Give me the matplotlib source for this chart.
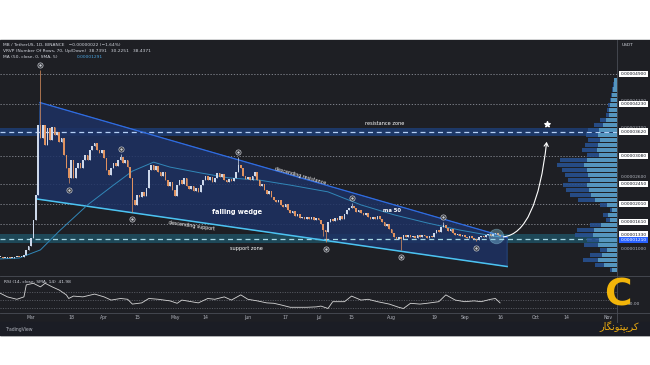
import numpy as np
import pandas as pd
import matplotlib
matplotlib.use('Agg')
import matplotlib.pyplot as plt
import matplotlib.dates as mdates
import matplotlib.transforms as mtransforms
from matplotlib.patches import Polygon, FancyArrowPatch, Rectangle
from matplotlib.lines import Line2D

# prices are in units of 0.00000001 USDT
start_date = '2024-02-17'
first_open = 830
closes = [
    830, 810, 820, 830, 810, 820, 830, 840, 830,
    840, 880, 990, 1080,
    1250, 1650, 2210, 3770, 3480, 3770, 3320, 3700, 3430, 3720,
    3540, 3610, 3390, 3480, 3100, 2810, 2590, 2990, 2590, 2810,
    2920, 2810, 2990, 3100, 2990, 3210, 3300, 3370, 3210, 3140,
    3210, 3030, 2770, 2650, 2810, 2920, 2850, 2990, 3050, 2920,
    2990, 2830, 2590, 2100, 1990, 2210, 2170, 2280, 2190, 2370,
    2770, 2880, 2770, 2850, 2720, 2630, 2720, 2540, 2410, 2500,
    2320, 2190, 2430, 2540, 2450, 2590, 2410, 2340, 2410, 2300,
    2370, 2280, 2430, 2540, 2630, 2540, 2610, 2500, 2590, 2700,
    2610, 2680, 2540, 2500, 2570, 2520, 2590, 2720, 2880, 2810,
    2630, 2570, 2610, 2540, 2630, 2720, 2540, 2410, 2460, 2320,
    2230, 2300, 2170, 2100, 2060, 2100, 1990, 1940, 2010, 1880,
    1810, 1860, 1740, 1790, 1700, 1720, 1680, 1720, 1680, 1720,
    1650, 1700, 1650, 1570, 1430, 1390, 1610, 1680, 1630, 1700,
    1650, 1740, 1680, 1790, 1880, 1920, 1970, 1920, 1830, 1880,
    1810, 1770, 1810, 1720, 1680, 1720, 1680, 1740, 1680, 1610,
    1520, 1570, 1460, 1370, 1280, 1230, 1280, 1230, 1320, 1280,
    1320, 1280, 1300, 1250, 1320, 1280, 1320, 1300, 1250, 1300,
    1280, 1370, 1430, 1390, 1500, 1540, 1480, 1410, 1460, 1370,
    1320, 1340, 1300, 1320, 1280, 1250, 1300, 1250, 1230, 1210,
    1280, 1300, 1280, 1320, 1340, 1300, 1340, 1370, 1320, 1300,
]
# wicks sticking out of the bodies (days counted from Mar 1)
high_days = [4, 38, 88, 136, 175]
high_vals = [4990, 3120, 3060, 2030, 1610]
low_days = [16, 43, 124, 125, 157, 189]
low_vals = [2480, 1830, 1300, 1170, 990, 1190]
pivot_high_days = [4, 38, 88, 136, 175]
pivot_low_days = [16, 43, 125, 157, 189]

ma_days = [-13, -5, 4, 12, 24, 35, 43, 52, 59, 72, 84, 97, 110, 126, 140, 154, 168, 182, 196, 199]
ma_vals = [790, 810, 990, 1410, 1990, 2430, 2740, 2940, 2830, 2700, 2590, 2540, 2430, 2280, 1990, 1770, 1590, 1430, 1300, 1280]

rsi_days = [-13, -10, -6, -3, -2, 1, 4, 6, 9, 12, 15, 16, 18, 22, 27, 31, 34, 38, 41, 43,
            47, 50, 54, 59, 62, 64, 68, 71, 75, 78, 82, 85, 89, 92, 96, 100, 103, 106, 110, 114,
            117, 121, 123, 126, 128, 133, 136, 140, 143, 147, 152, 156, 158, 161, 165, 168, 173, 176, 180, 184,
            188, 191, 195, 197, 199]
rsi_vals = [66, 57, 51, 57, 87, 91, 82, 91, 82, 74, 62, 53, 59, 57, 64, 57, 49, 53, 51, 39,
            42, 53, 51, 47, 41, 49, 45, 42, 53, 51, 57, 49, 62, 51, 47, 42, 41, 37, 31, 31,
            31, 32, 34, 28, 45, 45, 59, 49, 51, 45, 39, 31, 28, 41, 39, 41, 45, 62, 49, 45,
            47, 45, 51, 53, 42]

vp_levels = [4770, 4660, 4550, 4430, 4320, 4210, 4100, 3990, 3880, 3770, 3650, 3540, 3430, 3320, 3210,
             3100, 2990, 2880, 2770, 2660, 2540, 2430, 2320, 2210, 2100, 1990, 1880, 1770, 1650, 1540,
             1430, 1320, 1210, 1100, 990, 880, 770, 650, 540]
vp_total = [3, 4, 5, 6, 7, 9, 10, 11, 17, 23, 29, 31, 29, 32, 35, 30, 57, 60, 55, 52,
            49, 54, 51, 47, 39, 17, 7, 14, 11, 27, 40, 42, 30, 33, 17, 27, 34, 22, 7]
vp_up = [3, 3, 4, 5, 6, 7, 8, 8, 11, 14, 18, 19, 17, 19, 20, 18, 30, 33, 30, 29,
         27, 30, 28, 26, 22, 10, 5, 9, 7, 16, 23, 24, 18, 19, 10, 15, 19, 13, 5]

dotted_levels = [4900, 4230, 3080, 2450, 2010, 1570]
box_levels = [4900, 4230, 3620, 3080, 2450, 2010, 1610, 1330]
axis_ticks = [4300, 3700, 3100, 2600, 1000]
blue_level = 1210
res_zone = [3520, 3700]
res_line = 3620
sup_zone = [1140, 1340]
sup_line = 1230

wedge_days = [3.8, 202, 202, 2.5]
wedge_prices = [4265, 1266, 621, 2121]

date_tick_days = [0, 17, 31, 45, 61, 74, 92, 108, 122, 136, 153, 171, 184, 199, 214, 227, 245]
date_tick_labels = ['Mar', '18', 'Apr', '15', 'May', '14', 'Jun', '17', 'Jul', '15', 'Aug', '19', 'Sep', '16', 'Oct', '14', 'Nov']

BG = '#1e1f24'
UP = '#cdd8ea'
DOWN = '#e0925f'
TXT = '#d1d4dc'
GRID = '#8d9099'

fig = plt.figure(figsize=(6.5, 3.65), dpi=100)
fig.patch.set_facecolor('white')
fig.patches.append(Rectangle((0, 0.0822), 1, 0.8082, transform=fig.transFigure, color=BG, zorder=-10))
fig.patches.append(Rectangle((0, 0.0822), 1, 0.0356, transform=fig.transFigure, color='#1b1d25', zorder=-9))

ax = fig.add_axes([0, 0.2438, 0.9492, 0.6466])
ax_rsi = fig.add_axes([0, 0.1425, 0.9492, 0.1014], sharex=ax)
for a in (ax, ax_rsi):
    a.set_facecolor('none')
    for s in a.spines.values():
        s.set_visible(False)
    a.set_yticks([])

mar1 = mdates.date2num(pd.Timestamp('2024-03-01'))
x = mdates.date2num(pd.date_range(start_date, periods=len(closes), freq='D'))
c = np.array(closes, dtype=float)
o = np.array([first_open] + closes[:-1], dtype=float)
hi = np.maximum(o, c)
lo = np.minimum(o, c)
for d, v in zip(high_days, high_vals):
    hi[int(round(mar1 + d - x[0]))] = v
for d, v in zip(low_days, low_vals):
    lo[int(round(mar1 + d - x[0]))] = v

ax.set_xlim(mar1 - 13.15, mar1 + 248.6)
ax.set_ylim(410, 5654)
ax_rsi.set_ylim(16.75, 109.25)

# zones and levels
ax.axhspan(res_zone[0], res_zone[1], color='#1d3a6b', alpha=0.95, zorder=1, lw=0)
ax.axhline(res_line, color='#b4cff5', ls=(0, (4, 3)), lw=0.9, zorder=2)
ax.axhspan(sup_zone[0], sup_zone[1], color='#1f4b5c', alpha=0.95, zorder=1, lw=0)
ax.axhline(sup_line, color='#a8d8e6', ls=(0, (4, 3)), lw=0.9, zorder=2)
for v in dotted_levels:
    ax.axhline(v, color=GRID, ls=(0, (1.5, 2)), lw=0.6, zorder=1)

# falling wedge
wx = [mar1 + d for d in wedge_days]
ax.add_patch(Polygon(list(zip(wx, wedge_prices)), closed=True, fc='#1d3163', alpha=0.85, ec='#2a5cab', lw=0.5, zorder=1.5))
ax.plot(wx[:2], wedge_prices[:2], color='#2f6be0', lw=0.9, zorder=3)
ax.plot([wx[3], wx[2]], [wedge_prices[3], wedge_prices[2]], color='#4cc3f0', lw=1.1, zorder=3)

# ma 50
ax.plot([mar1 + d for d in ma_days], ma_vals, color='#3187b8', lw=0.7, zorder=3)

# candles
cols = np.where(c >= o, UP, DOWN)
ax.vlines(x, lo, hi, colors=cols, lw=0.5, zorder=4)
ax.bar(x, np.maximum(np.abs(c - o), 18), bottom=np.minimum(o, c), width=0.68, color=cols, lw=0, zorder=5)

# pivot markers
above = mtransforms.offset_copy(ax.transData, fig=fig, x=0, y=5, units='dots')
below = mtransforms.offset_copy(ax.transData, fig=fig, x=0, y=-7, units='dots')
for d in pivot_high_days:
    i = int(round(mar1 + d - x[0]))
    ax.scatter(x[i], hi[i], s=14, fc=BG, ec='#cfd2d8', lw=0.5, transform=above, zorder=6)
    ax.scatter(x[i], hi[i], s=0.6, c='#cfd2d8', transform=above, zorder=7)
for d in pivot_low_days:
    i = int(round(mar1 + d - x[0]))
    ax.scatter(x[i], lo[i], s=14, fc=BG, ec='#cfd2d8', lw=0.5, transform=below, zorder=6)
    ax.scatter(x[i], lo[i], s=0.6, c='#cfd2d8', transform=below, zorder=7)

# breakout projection
ax.scatter(mar1 + 197.1, 1299, s=110, fc='#8fd6ee', alpha=0.35, ec='#9fe0f5', lw=0.6, zorder=7)
ax.add_patch(FancyArrowPatch((mar1 + 199.3, 1277), (mar1 + 218.9, 3454),
                             connectionstyle='angle3,angleA=0,angleB=84',
                             arrowstyle='->,head_length=2.5,head_width=1.5', color='white', lw=0.8, zorder=8))
ax.scatter(mar1 + 218.9, 3788, marker='*', s=16, c='white', zorder=8)

# annotations
ax.text(mar1 + 150.2, 3788, 'resistance zone', color='white', fontsize=3.6, ha='center', va='center', zorder=9)
ax.text(mar1 + 114.1, 2632, 'descending resistance', color='white', fontsize=3.4, ha='center', va='center', rotation=-16, zorder=9)
ax.text(mar1 + 87.4, 1832, 'falling wedge', color='white', fontsize=4.8, fontweight='bold', ha='center', va='center', zorder=9)
ax.text(mar1 + 153.2, 1855, 'ma 50', color='white', fontsize=3.8, fontweight='bold', ha='center', va='center', zorder=9)
ax.text(mar1 + 68.3, 1521, 'descending support', color='white', fontsize=3.4, ha='center', va='center', rotation=-8, zorder=9)
ax.text(mar1 + 91.6, 1032, 'support zone', color='white', fontsize=3.6, ha='center', va='center', zorder=9)

# visible range volume profile
ax_vp = ax.twiny()
ax_vp.set_xlim(617, 0)
ax_vp.patch.set_visible(False)
ax_vp.axis('off')
ax_vp.barh(vp_levels, vp_total, height=100, color='#27518f', alpha=0.9, lw=0, zorder=2)
ax_vp.barh(vp_levels, vp_up, height=100, color='#5ea3c9', alpha=0.85, lw=0, zorder=3)

# price scale labels
lab_tr = mtransforms.blended_transform_factory(ax.transAxes, ax.transData)
for v in axis_ticks:
    ax.text(1.027, v, f'{v / 1e8:.8f}', transform=lab_tr, ha='center', va='center', fontsize=3.2,
            color='#b2b5be', clip_on=False)
for v in box_levels:
    ax.text(1.027, v, f'{v / 1e8:.8f}', transform=lab_tr, ha='center', va='center', fontsize=3.2,
            color='#131722', clip_on=False, bbox=dict(boxstyle='square,pad=0.25', fc='white', ec='none'))
ax.text(1.027, blue_level, f'{blue_level / 1e8:.8f}', transform=lab_tr, ha='center', va='center', fontsize=3.2,
        color='white', clip_on=False, bbox=dict(boxstyle='square,pad=0.25', fc='#2962ff', ec='none'))

# RSI pane
for lv in (70, 50, 30):
    ax_rsi.axhline(lv, color='#6f727b', ls=(0, (1.5, 2)), lw=0.5)
ax_rsi.plot([mar1 + d for d in rsi_days], rsi_vals, color='#d6d6d6', lw=0.6)
ax_rsi.text(1.027, 40, '40.00', transform=mtransforms.blended_transform_factory(ax_rsi.transAxes, ax_rsi.transData),
            ha='center', va='center', fontsize=3.2, color='#b2b5be', clip_on=False, zorder=1)
ax_rsi.text(0.006, 0.85, 'RSI (14, close, SMA, 14)  41.98', transform=ax_rsi.transAxes, fontsize=3.2, color=TXT, va='center')
ax_rsi.set_xticks([mar1 + d for d in date_tick_days])
ax_rsi.set_xticklabels(date_tick_labels)
ax_rsi.tick_params(axis='x', length=0, pad=1.2, labelsize=3.3, labelcolor='#b2b5be')
ax.tick_params(axis='x', length=0, labelbottom=False)

# pane separators
for yy in (0.2438, 0.1425):
    fig.add_artist(Line2D([0, 1], [yy, yy], transform=fig.transFigure, color='#4a4d56', lw=0.6))
fig.add_artist(Line2D([0.9492, 0.9492], [0.1178, 0.8904], transform=fig.transFigure, color='#4a4d56', lw=0.6))

# header
fig.text(0.005, 0.8767, 'MB / TetherUS, 1D, BINANCE   \u22120.00000022 (\u22121.64%)', fontsize=3.2, color=TXT, va='center')
fig.text(0.005, 0.8603, 'VRVP (Number Of Rows, 70, Up/Down)  38.7391   30.2251   38.4371', fontsize=3.2, color=TXT, va='center')
fig.text(0.005, 0.8438, 'MA (50, close, 0, SMA, 5)', fontsize=3.2, color=TXT, va='center')
fig.text(0.118, 0.8438, '0.00001291', fontsize=3.2, color='#4aa3df', va='center')
fig.text(0.966, 0.8767, 'USDT', fontsize=3.2, color=TXT, va='center', ha='center')
fig.text(0.008, 0.0986, 'TradingView', fontsize=3.3, color='#b2b5be', va='center')

# watermark logo
fig.text(0.951, 0.19, 'C', fontsize=27, fontweight='bold', color='#f2b50a', ha='center', va='center')
fig.text(0.953, 0.104, '\uFEAD\uFE8E\uFB95\uFEE7\uFEEE\uFE98\uFB59\uFBFE\uFEAE\uFB90',
         family=['DejaVu Sans'], fontsize=7, color='#e8a80e', ha='center', va='center')

fig.savefig('out.png', dpi=100)
